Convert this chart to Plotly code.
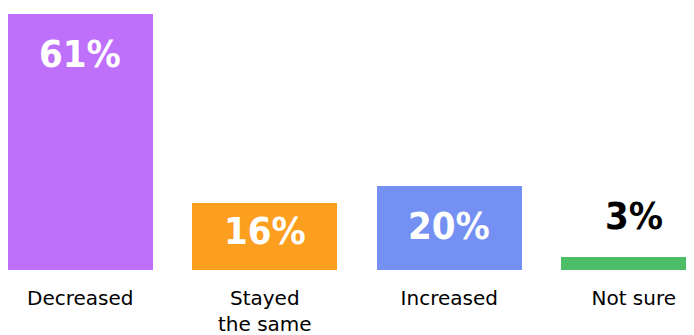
import plotly.graph_objects as go

categories = ["Decreased", "Stayed<br>the same", "Increased", "Not sure"]
values = [61, 16, 20, 3]
labels = ["61%", "16%", "20%", "3%"]

colors = ["#BE70FA", "#FC9E1E", "#7390F2", "#4CBE67"]
label_colors = ["white", "white", "white", "black"]
label_shift = [-40, -28, -40, 41]

x = list(range(len(categories)))

fig = go.Figure()
fig.add_trace(go.Bar(
    x=x, y=values, marker=dict(color=colors, line=dict(width=0)),
    width=0.785, hoverinfo="skip",
))

for xi, v, t, c, s in zip(x, values, labels, label_colors, label_shift):
    fig.add_annotation(
        x=xi, y=v, text=t, showarrow=False, yanchor="middle", yshift=s,
        font=dict(family="DejaVu Sans Condensed, DejaVu Sans", size=38, color=c, weight="bold"),
    )

fig.update_layout(
    width=694, height=335,
    margin=dict(l=0, r=0, t=0, b=73),
    plot_bgcolor="white", paper_bgcolor="white",
    showlegend=False,
    bargap=0,
    xaxis=dict(
        range=[-0.392, 3.37], tickvals=x, ticktext=categories,
        showgrid=False, zeroline=False, showline=False, ticks="",
        tickfont=dict(family="DejaVu Sans", size=20, color="black"),
        ticklabelstandoff=14,
    ),
    yaxis=dict(range=[0, 62.4], visible=False, showgrid=False, zeroline=False),
)

fig.write_html("out.html")
